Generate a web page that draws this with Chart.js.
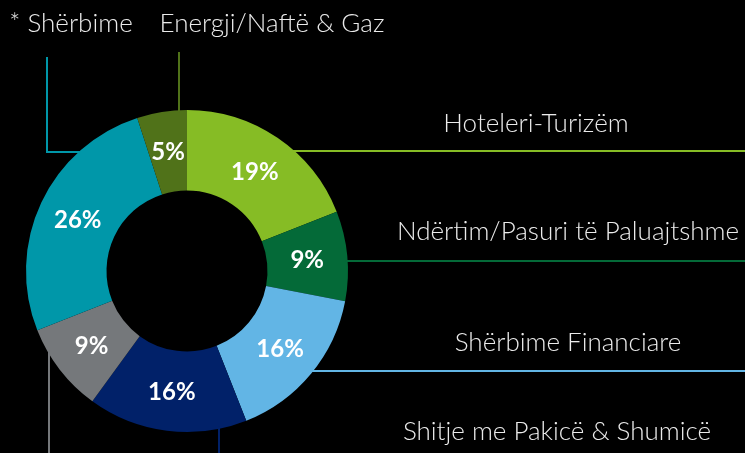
<!DOCTYPE html>
<html>
<head>
<meta charset="utf-8">
<script src="https://cdn.jsdelivr.net/npm/chart.js@4.4.1/dist/chart.umd.min.js"></script>
<style>
  html, body { margin: 0; padding: 0; background: #000; }
  #wrap { width: 745px; height: 453px; position: relative; }
</style>
</head>
<body>
<div id="wrap"><canvas id="sector-chart"></canvas></div>
<script>
// sectors, clockwise from 12 o'clock
const sectors = [
  "Hoteleri-Turizëm",
  "Ndërtim/Pasuri të Paluajtshme",
  "Shërbime Financiare",
  "Shitje me Pakicë & Shumicë",
  "",
  "* Shërbime",
  "Energji/Naftë & Gaz"
];
const shares = [19, 9, 16, 16, 9, 26, 5];
const sector_colors = ["#86BC25", "#046A38", "#62B5E5", "#012169", "#75787B", "#0097A9", "#507219"];

// where each callout goes (canvas px): side label box + leader routing
const callouts = [
  { kind: "h", y: 151, tx: 536, ty: 124 },
  { kind: "h", y: 261, tx: 568, ty: 232 },
  { kind: "h", y: 371, tx: 568, ty: 343 },
  { kind: "vdown", x: 219, tx: 557, ty: 432 },
  { kind: "vdown", x: 49 },
  { kind: "elbow", y: 152, x: 47, top: 57, tx: 71, ty: 24 },
  { kind: "vup", x: 179, top: 52, tx: 272, ty: 24 }
];

const labelFont = "300 26px Lato";
const pctFont = "bold 24px Lato";

const calloutPlugin = {
  id: "callouts",
  afterDatasetsDraw(chart) {
    const c = chart.ctx;
    const arcs = chart.getDatasetMeta(0).data;
    const cx = arcs[0].x, cy = arcs[0].y, r = arcs[0].outerRadius;
    const H = chart.height;
    c.save();
    // percentage labels
    c.fillStyle = "#fff";
    c.font = pctFont;
    c.textAlign = "center";
    c.textBaseline = "middle";
    arcs.forEach((a, i) => {
      const p = a.tooltipPosition();
      c.fillText(shares[i] + "%", p.x, p.y + 1);
    });
    // leader lines
    c.lineWidth = 2;
    callouts.forEach((o, i) => {
      c.strokeStyle = sector_colors[i];
      c.beginPath();
      if (o.kind === "h") {
        const dy = o.y - cy;
        const x0 = cx + Math.sqrt(r * r - dy * dy);
        c.moveTo(x0 - 2, o.y); c.lineTo(chart.width, o.y);
      } else if (o.kind === "vdown") {
        const dx = o.x - cx;
        const y0 = cy + Math.sqrt(r * r - dx * dx);
        c.moveTo(o.x, y0 - 2); c.lineTo(o.x, H);
      } else if (o.kind === "vup") {
        const dx = o.x - cx;
        const y0 = cy - Math.sqrt(r * r - dx * dx);
        c.moveTo(o.x, y0 + 2); c.lineTo(o.x, o.top);
      } else if (o.kind === "elbow") {
        const dy = o.y - cy;
        const x0 = cx - Math.sqrt(r * r - dy * dy);
        c.moveTo(x0 + 2, o.y); c.lineTo(o.x, o.y); c.lineTo(o.x, o.top);
      }
      c.stroke();
    });
    // sector names
    c.font = labelFont;
    c.fillStyle = "#ebebeb";
    callouts.forEach((o, i) => {
      if (o.tx === undefined || !sectors[i]) return;
      c.fillText(sectors[i], o.tx, o.ty);
    });
    c.restore();
  }
};

new Chart(document.getElementById("sector-chart"), {
  type: "doughnut",
  data: {
    labels: sectors,
    datasets: [{
      data: shares,
      backgroundColor: sector_colors,
      borderWidth: 0
    }]
  },
  options: {
    responsive: true,
    maintainAspectRatio: false,
    animation: false,
    cutout: "50%",
    layout: { padding: { left: 26, right: 397, top: 110, bottom: 21 } },
    plugins: {
      legend: { display: false },
      tooltip: { enabled: false }
    }
  },
  plugins: [calloutPlugin]
});
</script>
</body>
</html>
